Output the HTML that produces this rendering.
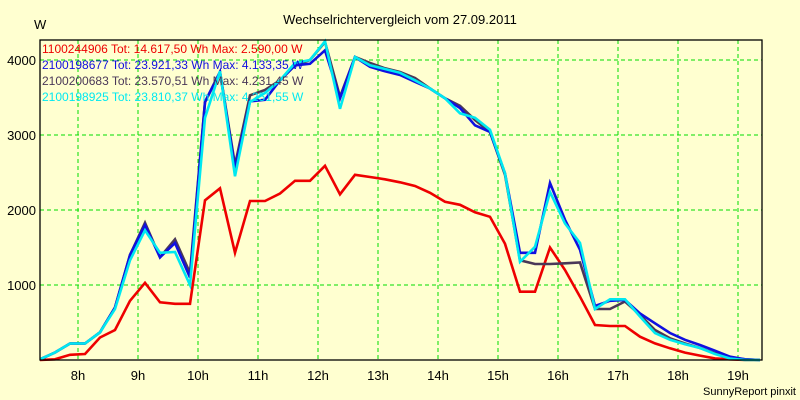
<!DOCTYPE html>
<html><head><meta charset="utf-8"><style>
html,body{margin:0;padding:0;background:#ffffd0;}
svg{display:block;font-family:"Liberation Sans",sans-serif;}
</style></head><body>
<svg id="chart" width="800" height="400" viewBox="0 0 800 400">
<rect x="0" y="0" width="800" height="400" fill="#ffffd0"/>
<text x="400" y="24" text-anchor="middle" font-size="13" fill="#000">Wechselrichtervergleich vom 27.09.2011</text>
<text x="34" y="29" font-size="13" fill="#000">W</text>
<text x="796" y="395" text-anchor="end" font-size="11" fill="#000">SunnyReport pinxit</text>
<g id="grid"></g>
<g id="ticks"></g>
<g id="series"></g>
<rect x="40" y="40" width="722" height="320" fill="none" stroke="#000" stroke-width="1.3"/>
<g id="legend"></g>
</svg>
<script>
const startHour = 7.3667;
const stepHours = 0.25;
const xTickHours = [8,9,10,11,12,13,14,15,16,17,18,19];
const yTickValues = [1000,2000,3000,4000];
const seriesNames = ["1100244906 Tot: 14.617,50 Wh Max: 2.590,00 W","2100198677 Tot: 23.921,33 Wh Max: 4.133,35 W","2100200683 Tot: 23.570,51 Wh Max: 4.231,45 W","2100198925 Tot: 23.810,37 Wh Max: 4.251,55 W"];
const redSeries = [0,10,70,80,300,400,790,1030,770,750,750,2130,2290,1430,2120,2120,2220,2390,2390,2590,2210,2470,2440,2410,2370,2320,2230,2110,2070,1970,1910,1550,911,911,1500,1200,844,467,453,453,311,222,156,98,58,22,10,0,0];
const blueSeries = [10,100,220,220,370,700,1400,1800,1370,1560,1100,3440,3840,2550,3450,3470,3730,3930,3950,4130,3490,4040,3910,3850,3800,3710,3620,3490,3360,3130,3040,2490,1430,1430,2360,1870,1470,720,790,800,620,490,360,270,200,124,44,10,0];
const darkSeries = [10,100,220,220,370,700,1400,1830,1370,1610,1160,3440,3840,2600,3530,3600,3730,3930,4000,4240,3510,4040,3960,3890,3840,3760,3620,3490,3390,3200,3040,2470,1330,1280,1280,1290,1300,680,680,780,600,400,290,220,160,90,30,10,0];
const cyanSeries = [10,100,220,220,370,680,1330,1730,1430,1440,1000,3230,3850,2450,3440,3560,3730,3960,4000,4250,3350,4040,3930,3880,3830,3730,3620,3490,3290,3230,3070,2490,1310,1510,2240,1820,1560,680,810,810,580,360,270,210,160,80,20,0,0];

const NS="http://www.w3.org/2000/svg";
function xScale(h){return 78+(h-8)*60;}
function yScale(v){return 360-v*0.075;}
function mk(tag,attrs,parent){const e=document.createElementNS(NS,tag);for(const k in attrs)e.setAttribute(k,attrs[k]);parent.appendChild(e);return e;}
const grid=document.getElementById('grid'),ticks=document.getElementById('ticks'),series=document.getElementById('series'),legend=document.getElementById('legend');
xTickHours.forEach(h=>{
  const x=xScale(h);
  const l=mk('line',{x1:x,y1:40,x2:x,y2:360,stroke:'#00dd00','stroke-width':1,'stroke-dasharray':'4,3'},grid);
  
  
  const t=mk('text',{x:x,y:380,'text-anchor':'middle','font-size':13,fill:'#000'},ticks);
  t.textContent=h+'h';
  
  
});
yTickValues.forEach(v=>{
  const y=yScale(v);
  const l=mk('line',{x1:40,y1:y,x2:762,y2:y,stroke:'#00dd00','stroke-width':1,'stroke-dasharray':'4,3'},grid);
  
  
  const t=mk('text',{x:36,y:y+5,'text-anchor':'end','font-size':13,fill:'#000'},ticks);
  t.textContent=v;
  
  
});
const defs=[[redSeries,'#ee0000','series-1100244906'],[darkSeries,'#4a3858','series-2100200683'],[blueSeries,'#1010e0','series-2100198677'],[cyanSeries,'#00e8f0','series-2100198925']];
defs.forEach(d=>{
  const pts=d[0].map((v,i)=>xScale(startHour+i*stepHours).toFixed(1)+','+yScale(v).toFixed(1)).join(' ');
  const p=mk('polyline',{points:pts,fill:'none',stroke:d[1],'stroke-width':2.6,'stroke-linejoin':'miter'},series);
  
  
});
const legendColors=['#ee0000','#1010e0','#4a3858','#00e8f0'];
seriesNames.forEach((n,i)=>{
  const t=mk('text',{x:42,y:53+i*16,'font-size':12,fill:legendColors[i]},legend);
  t.textContent=n;
  
  
});
</script>
</body></html>
